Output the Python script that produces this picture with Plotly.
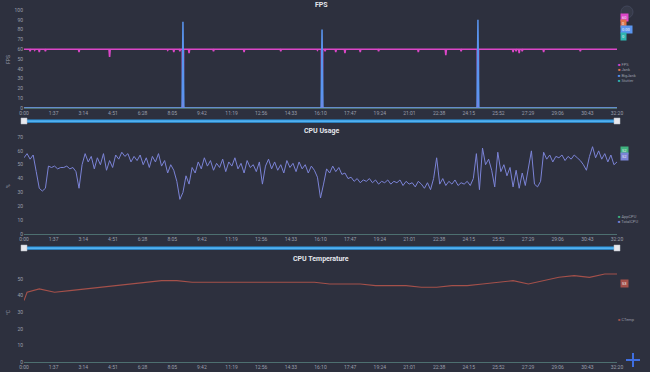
import plotly.graph_objects as go
from plotly.subplots import make_subplots

# ---------------- data ----------------
tick_secs = [0, 97, 194, 291, 388, 485, 582, 679, 776, 873, 970, 1067, 1164, 1261,
             1358, 1455, 1552, 1649, 1746, 1843, 1940]
tick_text = ["0:00", "1:37", "3:14", "4:51", "6:28", "8:05", "9:42", "11:19", "12:56",
             "14:33", "16:10", "17:47", "19:24", "21:01", "22:38", "24:15", "25:52",
             "27:29", "29:06", "30:43", "32:20"]

fps_t = [0,
         18, 20, 22, 33, 35, 37, 48, 50, 52, 68, 70, 72,
         178, 180, 182, 278, 280, 282, 468, 470, 472, 488, 490, 492,
         508, 510, 512, 518, 520, 522, 538, 540, 542, 618, 620, 622,
         718, 720, 722, 838, 840, 842, 958, 960, 962, 973, 975, 977,
         983, 985, 987, 1018, 1020, 1022, 1048, 1050, 1052, 1098, 1100, 1102,
         1158, 1160, 1162, 1288, 1290, 1292, 1378, 1380, 1382, 1428, 1430, 1432,
         1483, 1485, 1487, 1598, 1600, 1602, 1608, 1610, 1612, 1618, 1620, 1622,
         1628, 1630, 1632, 1698, 1700, 1702, 1818, 1820, 1822,
         1940]
fps_values = [60,
              60, 58, 60, 60, 59, 60, 60, 57, 60, 60, 58, 60,
              60, 57, 60, 60, 52, 60, 60, 59, 60, 60, 57, 60,
              60, 58, 60, 60, 0, 60, 60, 56, 60, 60, 58, 60,
              60, 57, 60, 60, 58, 60, 60, 59, 60, 60, 0, 60,
              60, 58, 60, 60, 57, 60, 60, 56, 60, 60, 57, 60,
              60, 58, 60, 60, 57, 60, 60, 54, 60, 60, 58, 60,
              60, 0, 60, 60, 57, 60, 60, 58, 60, 60, 56, 60,
              60, 58, 60, 60, 57, 60, 60, 58, 60,
              60]

event_t = [0, 517, 520, 523, 972, 975, 978, 1482, 1485, 1488, 1940]
bigjank_values = [0, 0, 88, 0, 0, 80, 0, 0, 90, 0, 0]
jank_values = [0, 0, 6, 0, 0, 4, 0, 0, 5, 0, 0]
stutter_t = [0, 1940]
stutter_values = [0, 0]

cpu_step = 10
cpu_total = [
    55, 58, 54, 57, 45, 33, 31, 33, 49, 48,
    49, 47, 48, 48, 49, 47, 48, 45, 33, 50,
    58, 52, 56, 47, 55, 50, 58, 46, 53, 48,
    57, 54, 59, 56, 58, 52, 56, 53, 57, 50,
    55, 48, 56, 52, 58, 49, 53, 44, 50, 46,
    38, 25, 30, 42, 36, 48, 44, 52, 47, 55,
    49, 53, 46, 51, 48, 54, 45, 52, 49, 55,
    47, 51, 44, 53, 48, 50, 45, 52, 36, 49,
    54, 47, 52, 46, 50, 44, 53, 48, 51, 45,
    52, 47, 50, 44, 49, 46, 41, 26, 36, 47,
    44, 49, 45, 48, 43, 44, 40, 41, 38, 40,
    37, 39, 38, 40, 37, 39, 36, 38, 37, 39,
    36, 38, 37, 39, 35, 38, 36, 37, 34, 38,
    36, 33, 37, 32, 40, 55, 36, 40, 35, 38,
    36, 39, 35, 37, 36, 38, 35, 40, 58, 32,
    62, 50, 54, 46, 34, 59, 45, 50, 42, 48,
    34, 46, 33, 44, 35, 47, 60, 36, 34, 38,
    59, 54, 57, 52, 56, 55, 57, 53, 56, 54,
    57, 55, 53, 50, 46, 56, 63, 55, 60, 54,
    58, 52, 57, 50, 52,
]

temp_t = [0, 10, 50, 100, 150, 200, 250, 300, 350, 400, 450, 500, 550, 600, 650,
          700, 750, 800, 850, 900, 950, 1000, 1050, 1100, 1150, 1200, 1250, 1300,
          1350, 1400, 1450, 1500, 1550, 1600, 1650, 1700, 1750, 1800, 1850, 1900, 1940]
temp_values = [37, 42, 44, 42, 43, 44, 45, 46, 47, 48, 49, 49, 48, 48, 48,
               48, 48, 48, 48, 48, 48, 47, 47, 47, 46, 46, 46, 45,
               45, 46, 46, 47, 48, 49, 47, 49, 51, 52, 51, 53, 53]

fps_labels = ["FPS", "Jank", "BigJank", "Stutter"]
cpu_labels = ["AppCPU", "TotalCPU"]
temp_labels = ["CTemp"]
fps_end = ["60", "0", "0.00", "0"]
cpu_end = ["52", "52"]
temp_end = ["53"]

# ---------------- styles ----------------
BG = "#2d303e"
TICK = "#9a9eab"
C_FPS = "#dc46c8"
C_JANK = "#e0704a"
C_BIG = "#5a95f0"
C_STUT = "#2fb5b0"
C_APP = "#3fb37f"
C_TOT = "#7b83d6"
C_TEMP = "#a4504a"
SLIDER = "#2c9ae6"

W, H = 650, 372
ML, MR, MT, MB = 24, 33, 10, 10
PW = W - ML - MR
PH = H - MT - MB


def fx(px):
    return (px - ML) / PW


def fy(py):
    return (H - MB - py) / PH


cpu_t = [i * cpu_step for i in range(len(cpu_total))]

fig = make_subplots(rows=3, cols=1)

fig.add_trace(go.Scatter(x=stutter_t, y=stutter_values, mode="lines",
                         line=dict(color=C_STUT, width=1), name=fps_labels[3]), row=1, col=1)
fig.add_trace(go.Scatter(x=event_t, y=jank_values, mode="lines",
                         line=dict(color=C_JANK, width=1), name=fps_labels[1]), row=1, col=1)
fig.add_trace(go.Scatter(x=fps_t, y=fps_values, mode="lines",
                         line=dict(color=C_FPS, width=1.6), name=fps_labels[0]), row=1, col=1)
fig.add_trace(go.Scatter(x=event_t, y=bigjank_values, mode="lines",
                         line=dict(color=C_BIG, width=1.5), name=fps_labels[2]), row=1, col=1)

fig.add_trace(go.Scatter(x=cpu_t, y=cpu_total, mode="lines",
                         line=dict(color=C_TOT, width=1), name=cpu_labels[1]), row=2, col=1)

fig.add_trace(go.Scatter(x=temp_t, y=temp_values, mode="lines",
                         line=dict(color=C_TEMP, width=1.1), name=temp_labels[0]), row=3, col=1)

xcommon = dict(range=[0, 1940], tickmode="array", tickvals=tick_secs, ticktext=tick_text,
               showgrid=False, zeroline=False, showline=True, linecolor="#4d6f70",
               linewidth=1, ticks="", automargin=False, tickfont=dict(size=5, color=TICK))
ycommon = dict(showgrid=False, zeroline=False, showline=False, ticks="", automargin=False,
               tickfont=dict(size=5, color=TICK))

fig.update_layout(
    width=W, height=H,
    margin=dict(l=ML, r=MR, t=MT, b=MB),
    paper_bgcolor=BG, plot_bgcolor=BG,
    showlegend=False,
    font=dict(family="Roboto, Noto Sans, sans-serif", color=TICK),
    xaxis=dict(**xcommon, anchor="y"),
    xaxis2=dict(**xcommon, anchor="y2"),
    xaxis3=dict(**xcommon, anchor="y3"),
    yaxis=dict(**ycommon, domain=[fy(108), fy(10)], range=[0, 100], dtick=10),
    yaxis2=dict(**ycommon, domain=[fy(234), fy(137)], range=[0, 70], dtick=10),
    yaxis3=dict(**ycommon, domain=[fy(362), fy(265.7)], range=[0, 58], dtick=10),
)

ann = []
# titles
for txt, py in [("FPS", 5), ("CPU Usage", 131), ("CPU Temperature", 259)]:
    ann.append(dict(text="<b>%s</b>" % txt, x=fx(321), y=fy(py), xref="paper", yref="paper",
                    showarrow=False, font=dict(size=7, color="#e4e6ec"),
                    xanchor="center", yanchor="middle"))
# y titles
for txt, py in [("FPS", 60), ("%", 186), ("°C", 312)]:
    ann.append(dict(text=txt, x=fx(8), y=fy(py), xref="paper", yref="paper",
                    showarrow=False, textangle=-90, font=dict(size=5, color=TICK),
                    xanchor="center", yanchor="middle"))


def legend_block(labels, colors, top):
    for i, (lab, col) in enumerate(zip(labels, colors)):
        ann.append(dict(text="<span style='color:%s'>■</span> %s" % (col, lab),
                        x=fx(616), y=fy(top + i * 5.5), xref="paper", yref="paper",
                        showarrow=False, font=dict(size=4, color=TICK),
                        xanchor="left", yanchor="middle"))


legend_block(fps_labels, [C_FPS, C_JANK, C_BIG, C_STUT], 64)
legend_block(cpu_labels, [C_APP, C_TOT], 216)
legend_block(temp_labels, [C_TEMP], 319)


def end_labels(texts, colors, ys):
    for t, c, py in zip(texts, colors, ys):
        ann.append(dict(text=t, x=fx(620), y=fy(py), xref="paper", yref="paper",
                        showarrow=False, font=dict(size=4, color="#f0f0f0"),
                        bgcolor=c, borderpad=1, xanchor="left", yanchor="middle"))


end_labels(fps_end, [C_FPS, C_JANK, C_BIG, C_STUT], [17, 23.5, 30, 36])
end_labels(cpu_end, [C_APP, C_TOT], [150, 156])
end_labels(temp_end, [C_TEMP], [283])

fig.update_layout(annotations=ann)

shapes = []
# slider bars with handles
for py in [121, 248]:
    shapes.append(dict(type="rect", xref="paper", yref="paper", x0=fx(24), x1=fx(617),
                       y0=fy(py + 1.8), y1=fy(py - 1.6), fillcolor=SLIDER, line=dict(width=0)))
    shapes.append(dict(type="rect", xref="paper", yref="paper", x0=fx(24), x1=fx(617),
                       y0=fy(py + 0.4), y1=fy(py - 0.2), fillcolor="#7cc6f5", line=dict(width=0)))
    for hx in [24, 617]:
        shapes.append(dict(type="rect", xref="paper", yref="paper", x0=fx(hx - 3), x1=fx(hx + 3),
                           y0=fy(py + 3), y1=fy(py - 3),
                           fillcolor="#e6e8ee", line=dict(color="#b8bcc6", width=0.5)))
# top-right circle button
shapes.append(dict(type="circle", xref="paper", yref="paper", x0=fx(621), x1=fx(633),
                   y0=fy(18), y1=fy(6), fillcolor="#363a49", line=dict(color="#41465a", width=1)))
# bottom-right plus
shapes.append(dict(type="line", xref="paper", yref="paper", x0=fx(626), x1=fx(640),
                   y0=fy(360), y1=fy(360), line=dict(color="#3f6ee0", width=2)))
shapes.append(dict(type="line", xref="paper", yref="paper", x0=fx(633), x1=fx(633),
                   y0=fy(367), y1=fy(353), line=dict(color="#3f6ee0", width=2)))
fig.update_layout(shapes=shapes)

fig.write_html("out.html", config={"displayModeBar": False},
               post_script="document.body.style.margin='0';")
